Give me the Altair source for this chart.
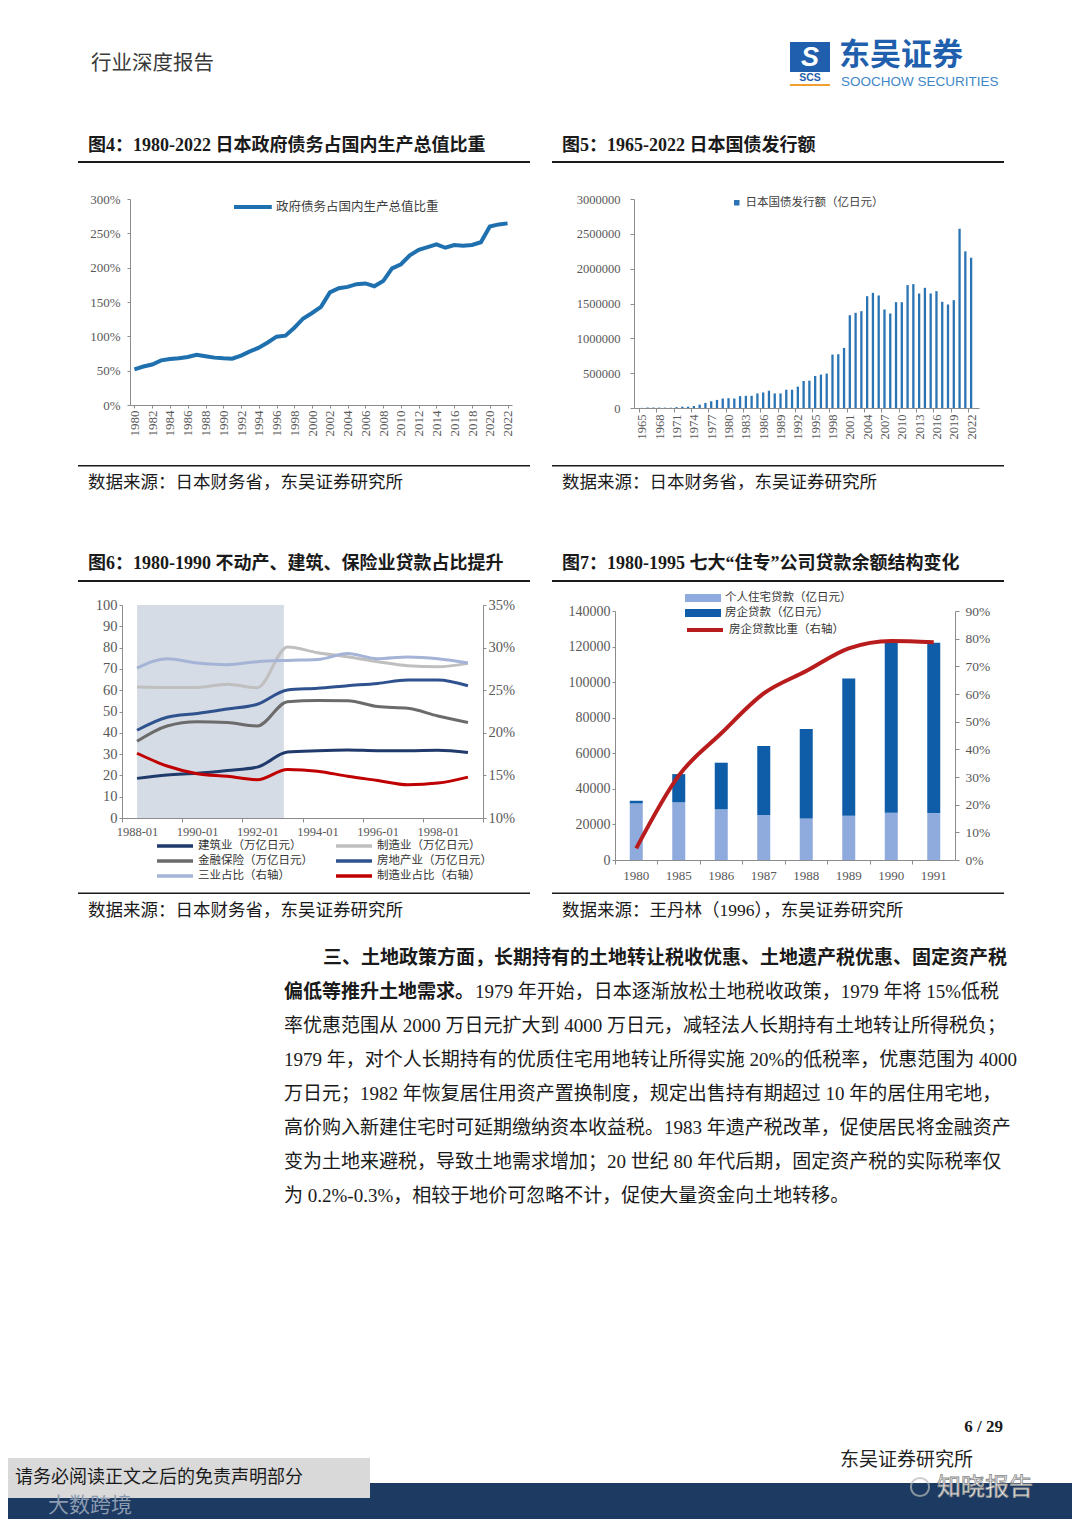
import altair as alt
import pandas as pd

SERIF = "Liberation Serif, Noto Sans CJK SC"
SANS = "Noto Sans CJK SC"
TNR = "Liberation Serif"

# ---------------- Figure 4: government debt / GDP (%) ----------------
years4 = [1980, 1981, 1982, 1983, 1984, 1985, 1986, 1987, 1988, 1989, 1990,
          1991, 1992, 1993, 1994, 1995, 1996, 1997, 1998, 1999, 2000, 2001,
          2002, 2003, 2004, 2005, 2006, 2007, 2008, 2009, 2010, 2011, 2012,
          2013, 2014, 2015, 2016, 2017, 2018, 2019, 2020, 2021, 2022]
debt_ratio = [52, 56, 59, 65, 67, 68, 70, 73, 71, 69, 68,
              67.5, 72, 78, 83.5, 91, 99.5, 101, 112.5, 126, 134, 143,
              164, 170, 172, 176, 177, 173, 180.5, 199, 205, 218, 226,
              230, 234, 229, 233, 232, 233, 237, 260, 263, 264.5]
series4 = "政府债务占国内生产总值比重"
x_ticks4 = [1980, 1982, 1984, 1986, 1988, 1990, 1992, 1994, 1996, 1998, 2000,
            2002, 2004, 2006, 2008, 2010, 2012, 2014, 2016, 2018, 2020, 2022]
y_ticks4 = [0, 50, 100, 150, 200, 250, 300]

# ---------------- Figure 5: JGB issuance (100 million yen) ----------------
years5 = [1965, 1966, 1967, 1968, 1969, 1970, 1971, 1972, 1973, 1974,
          1975, 1976, 1977, 1978, 1979, 1980, 1981, 1982, 1983, 1984,
          1985, 1986, 1987, 1988, 1989, 1990, 1991, 1992, 1993, 1994,
          1995, 1996, 1997, 1998, 1999, 2000, 2001, 2002, 2003, 2004,
          2005, 2006, 2007, 2008, 2009, 2010, 2011, 2012, 2013, 2014,
          2015, 2016, 2017, 2018, 2019, 2020, 2021, 2022]
jgb_issuance = [2000, 7000, 7000, 6000, 5000, 4000, 12000, 19000, 19000, 29000,
                48000, 73000, 97000, 116000, 136000, 141000, 136000, 170000, 175000, 175000,
                209000, 223000, 248000, 209000, 209000, 262000, 262000, 306000, 388000, 393000,
                460000, 479000, 494000, 767000, 772000, 863000, 1332000, 1366000, 1390000, 1605000,
                1653000, 1615000, 1414000, 1356000, 1519000, 1519000, 1764000, 1778000, 1644000, 1725000,
                1644000, 1677000, 1524000, 1486000, 1548000, 2573000, 2248000, 2157000]
series5 = "日本国债发行额（亿日元）"
x_ticks5 = [1965, 1968, 1971, 1974, 1977, 1980, 1983, 1986, 1989, 1992,
            1995, 1998, 2001, 2004, 2007, 2010, 2013, 2016, 2019, 2022]
y_ticks5 = [0, 500000, 1000000, 1500000, 2000000, 2500000, 3000000]

# ---------------- Figure 6: loans by industry ----------------
years6 = [1988, 1989, 1990, 1991, 1992, 1993, 1994, 1995, 1996, 1997, 1998, 1999]
construction = [18.6, 20.2, 21.0, 22.3, 23.9, 31.0, 31.6, 31.9, 31.6, 31.6, 31.8, 30.7]
manufacturing = [61.5, 61.3, 61.3, 62.8, 61.2, 80.3, 77.6, 75.7, 73.4, 71.5, 71.0, 72.6]
finance = [36.0, 43.2, 45.2, 44.8, 43.2, 54.6, 55.2, 55.1, 52.3, 51.5, 47.9, 44.8]
real_estate = [41.2, 47.3, 49.1, 51.2, 53.4, 60.1, 60.9, 62.1, 63.2, 64.8, 64.8, 62.1]
three_share = [27.6, 28.7, 28.2, 28.0, 28.35, 28.5, 28.6, 29.3, 28.7, 28.9, 28.7, 28.2]
mfg_share = [17.6, 16.1, 15.2, 14.9, 14.5, 15.7, 15.5, 14.9, 14.4, 13.9, 14.1, 14.8]
names6 = ["建筑业（万亿日元）", "制造业（万亿日元）", "金融保险（万亿日元）",
          "房地产业（万亿日元）", "三业占比（右轴）", "制造业占比（右轴）"]
colors6 = ["#1F3A6B", "#BFBFBF", "#6B6B6B", "#2F528F", "#A5B4D6", "#C00000"]
shade_period = [1988.0, 1992.88]
x_ticks6 = [1987.5, 1989.5, 1991.5, 1993.5, 1995.5, 1997.5, 1999.5]
y_ticks6L = [0, 10, 20, 30, 40, 50, 60, 70, 80, 90, 100]
y_ticks6R = [10, 15, 20, 25, 30, 35]

# ---------------- Figure 7: housing-loan companies ----------------
cats7 = ["1980", "1985", "1986", "1987", "1988", "1989", "1990", "1991"]
personal_loans = [31800, 32400, 28500, 25300, 23400, 24900, 26600, 26400]
corp_loans = [1500, 15900, 26200, 38800, 50200, 77200, 97100, 95800]
corp_ratio = [4.2, 30.5, 45.8, 60.2, 68.3, 76.5, 79.2, 78.7]
names7 = ["个人住宅贷款（亿日元）", "房企贷款（亿日元）", "房企贷款比重（右轴）"]
colors7 = ["#8FAADC", "#0F5CA8", "#B81C1C"]
y_ticks7L = [0, 20000, 40000, 60000, 80000, 100000, 120000, 140000]
y_ticks7R = [0, 10, 20, 30, 40, 50, 60, 70, 80, 90]

body_lines = [
    "三、土地政策方面，长期持有的土地转让税收优惠、土地遗产税优惠、固定资产税",
    "偏低等推升土地需求。",
    "1979 年开始，日本逐渐放松土地税收政策，1979 年将 15%低税",
    "率优惠范围从 2000 万日元扩大到 4000 万日元，减轻法人长期持有土地转让所得税负；",
    "1979 年，对个人长期持有的优质住宅用地转让所得实施 20%的低税率，优惠范围为 4000",
    "万日元；1982 年恢复居住用资产置换制度，规定出售持有期超过 10 年的居住用宅地，",
    "高价购入新建住宅时可延期缴纳资本收益税。1983 年遗产税改革，促使居民将金融资产",
    "变为土地来避税，导致土地需求增加；20 世纪 80 年代后期，固定资产税的实际税率仅",
    "为 0.2%-0.3%，相较于地价可忽略不计，促使大量资金向土地转移。",
]

# ---------------- layout (page pixels) ----------------
X4, Y4, W4, H4 = 130, 199, 382, 206
X5, Y5, W5, H5 = 634, 199, 345, 209
X6, Y6, W6, H6 = 122, 605, 361, 213
X7, Y7, W7, H7 = 615, 605, 340, 255
LEFT = 9               # left edge of the left-column anchors (spacer occupies 8..9)
MID = 541              # split between left and right column
ROW1, ROW2 = 520, 930  # split between rows
O4, O5, O6, O7 = (X4, Y4), (X5, Y5), (X6, Y6), (X7, Y7)
O8 = (8, ROW2)

ONE = alt.Data(values=[{"k": 0}])


def txt(o, px, py, s, size, color="#1a1a1a", weight="normal", font=SERIF,
        align="left", baseline="middle", opacity=1.0, **kw):
    return alt.Chart(ONE).mark_text(
        align=align, baseline=baseline, fontSize=size, fontWeight=weight,
        font=font, color=color, opacity=opacity, **kw
    ).encode(x=alt.value(px - o[0]), y=alt.value(py - o[1]), text=alt.value(s))


def box(o, x1, y1, x2, y2, color, opacity=1.0):
    return alt.Chart(ONE).mark_rect(color=color, opacity=opacity).encode(
        x=alt.value(x1 - o[0]), x2=alt.value(x2 - o[0]),
        y=alt.value(y1 - o[1]), y2=alt.value(y2 - o[1]))


def spacer():
    return alt.Chart(ONE).mark_rect(opacity=0).encode(
        x=alt.value(0), x2=alt.value(1), y=alt.value(0), y2=alt.value(1)
    ).properties(width=1, height=1)


AX = dict(grid=False, domainColor="#8c8c8c", tickColor="#8c8c8c",
          labelColor="#595959", labelFont=TNR, title=None,
          labelFlush=False, labelOverlap=False)

SRC1 = "数据来源：日本财务省，东吴证券研究所"
SRC7 = "数据来源：王丹林（1996），东吴证券研究所"
SRC_SIZE = 17.5

# ---------------- decorations ----------------
decor4 = [
    box(O4, LEFT, 8, MID, ROW1, "white", 0.0),
    txt(O4, 91, 64, "行业深度报告", 20.5, color="#3a3a3a"),
    txt(O4, 88, 146, "图4：1980-2022 日本政府债务占国内生产总值比重", 18, weight="bold"),
    box(O4, 78, 161, 530, 163, "#1a1a1a"),
    box(O4, 78, 465, 530, 466.5, "#1a1a1a"),
    txt(O4, 88, 483, SRC1, SRC_SIZE),
]
decor5 = [
    box(O5, MID, 8, 1072, ROW1, "white", 0.0),
    box(O5, 790, 42, 830, 72, "#1F5FAD"),
    txt(O5, 810, 58, "S", 27, color="white", weight="bold",
        font="Liberation Sans", align="center", fontStyle="italic"),
    txt(O5, 810, 78, "SCS", 10.5, color="#1F5FAD", weight="bold",
        font="Liberation Sans", align="center"),
    box(O5, 790, 84, 830, 86, "#F0A030"),
    txt(O5, 839, 56, "东吴证券", 31, color="#1F5FAD", weight="bold", font=SANS),
    txt(O5, 841, 82, "SOOCHOW SECURITIES", 13.5, color="#3F86C8",
        font="Liberation Sans Narrow, Liberation Sans"),
    txt(O5, 562, 146, "图5：1965-2022 日本国债发行额", 18, weight="bold"),
    box(O5, 552, 161, 1004, 163, "#1a1a1a"),
    box(O5, 552, 465, 1004, 466.5, "#1a1a1a"),
    txt(O5, 562, 483, SRC1, SRC_SIZE),
]
decor6 = [
    box(O6, LEFT, ROW1, MID, ROW2, "white", 0.0),
    txt(O6, 88, 564, "图6：1980-1990 不动产、建筑、保险业贷款占比提升", 18, weight="bold"),
    box(O6, 78, 580, 530, 582, "#1a1a1a"),
    box(O6, 78, 892.5, 530, 894, "#1a1a1a"),
    txt(O6, 88, 911, SRC1, SRC_SIZE),
]
decor7 = [
    box(O7, MID, ROW1, 1072, ROW2, "white", 0.0),
    txt(O7, 562, 564, "图7：1980-1995 七大“住专”公司贷款余额结构变化", 18, weight="bold"),
    box(O7, 552, 580, 1004, 582, "#1a1a1a"),
    box(O7, 552, 892.5, 1004, 894, "#1a1a1a"),
    txt(O7, 562, 911, SRC7, SRC_SIZE),
]
decor8 = [
    box(O8, 8, ROW2, 1072, 1519, "white", 0.0),
    txt(O8, 323, 958, body_lines[0], 19, weight="bold"),
    txt(O8, 284, 992, body_lines[1], 19, weight="bold"),
    txt(O8, 475, 992, body_lines[2], 19),
]
for i, line in enumerate(body_lines[3:]):
    decor8.append(txt(O8, 284, 1026 + 34 * i, line, 19))
decor8 += [
    txt(O8, 1003, 1427, "6 / 29", 17, weight="bold", align="right", font=TNR),
    txt(O8, 840, 1460, "东吴证券研究所", 19, color="#222222"),
    box(O8, 8, 1483, 1072, 1519, "#1C3A62"),
    box(O8, 8, 1458, 370, 1498, "#D9D9D9"),
    txt(O8, 15, 1478, "请务必阅读正文之后的免责声明部分", 18, color="#1a1a1a"),
    txt(O8, 48, 1506, "大数跨境", 21, color="#8D9BB0", font=SANS),
    alt.Chart(ONE).mark_point(shape="circle", size=330, filled=False,
                              color="#BBBBBB", strokeWidth=2).encode(
        x=alt.value(920 - O8[0]), y=alt.value(1487 - O8[1])),
    txt(O8, 937, 1488, "知晓报告", 24, color="#F2F2F2", font=SANS,
        stroke="#8a8a8a", strokeWidth=0.8),
]

# ---------------- Figure 4 ----------------
df4 = pd.DataFrame({"year": years4, "v": debt_ratio, "s": series4})
line4 = alt.Chart(df4).mark_line(strokeWidth=4).encode(
    x=alt.X("year:Q", scale=alt.Scale(domain=[1979.5, 2022.5], nice=False, zero=False),
            axis=alt.Axis(**AX, values=x_ticks4, format="d", labelAngle=270,
                          labelFontSize=13, tickSize=3, labelPadding=2)),
    y=alt.Y("v:Q", scale=alt.Scale(domain=[0, 300], nice=False),
            axis=alt.Axis(**AX, values=y_ticks4, labelExpr="datum.value + '%'",
                          labelFontSize=13, tickSize=3, labelPadding=7)),
    color=alt.Color("s:N", scale=alt.Scale(domain=[series4], range=["#1F70AE"]),
                    legend=alt.Legend(title=None, orient="none", legendX=102, legendY=0,
                                      symbolType="M-1,0H5.3", symbolSize=144,
                                      symbolStrokeWidth=4, labelOffset=28, padding=0,
                                      labelFont=SANS, labelFontSize=12.5, labelLimit=400,
                                      labelColor="#404040")),
)
f4 = alt.layer(*decor4, line4).properties(width=W4, height=H4)

# ---------------- Figure 5 ----------------
df5 = pd.DataFrame({"year": years5, "v": jgb_issuance, "s": series5})
bars5 = alt.Chart(df5).mark_bar(size=2.3).encode(
    x=alt.X("year:Q", scale=alt.Scale(domain=[1964.5, 2022.5], nice=False, zero=False),
            axis=alt.Axis(**AX, values=x_ticks5, format="d", labelAngle=270,
                          labelFontSize=12.5, tickSize=4, labelPadding=2,
                          tickOffset=-3, labelOffset=3)),
    y=alt.Y("v:Q", scale=alt.Scale(domain=[0, 3000000], nice=False),
            axis=alt.Axis(**AX, values=y_ticks5, format="d",
                          labelFontSize=12.5, tickSize=4, labelPadding=10)),
    color=alt.Color("s:N", scale=alt.Scale(domain=[series5], range=["#2B74B3"]),
                    legend=alt.Legend(title=None, orient="none", legendX=97, legendY=-2,
                                      symbolType="square", symbolSize=30,
                                      labelOffset=3, padding=0, labelLimit=400,
                                      labelFont=SANS, labelFontSize=11.5,
                                      labelColor="#404040")),
)
f5 = alt.layer(*decor5, bars5).properties(width=W5, height=H5)

# ---------------- Figure 6 ----------------
rows6L, rows6R = [], []
for i, yr in enumerate(years6):
    rows6L += [
        {"year": yr, "v": construction[i], "s": names6[0]},
        {"year": yr, "v": manufacturing[i], "s": names6[1]},
        {"year": yr, "v": finance[i], "s": names6[2]},
        {"year": yr, "v": real_estate[i], "s": names6[3]},
    ]
    rows6R += [
        {"year": yr, "p": three_share[i], "s": names6[4]},
        {"year": yr, "p": mfg_share[i], "s": names6[5]},
    ]
df6L = pd.DataFrame(rows6L)
df6R = pd.DataFrame(rows6R)
df6S = pd.DataFrame({"x0": [shade_period[0]], "x1": [shade_period[1]]})

# legend fills column by column: order the domain so it reads row by row
leg_order = [0, 2, 4, 1, 3, 5]
x6 = alt.X("year:Q", scale=alt.Scale(domain=[1987.5, 1999.5], nice=False, zero=False),
           axis=alt.Axis(**AX, values=x_ticks6,
                         labelExpr="datum.value < 1999 ? (datum.value + 0.5) + '-01' : ''",
                         labelOffset=15, labelFontSize=12.5, tickSize=4, labelPadding=3))
legend6 = alt.Legend(title=None, orient="none", legendX=33, legendY=233, columns=2,
                     symbolType="M-1,0H5", symbolSize=144, symbolStrokeWidth=3.5,
                     labelOffset=27, columnPadding=16, rowPadding=0, padding=0,
                     labelFont=SANS, labelFontSize=11.5, labelColor="#333333", labelLimit=400)
color6 = alt.Color("s:N", scale=alt.Scale(domain=[names6[k] for k in leg_order],
                                          range=[colors6[k] for k in leg_order]),
                   legend=legend6)

shade6 = alt.Chart(df6S).mark_rect(color="#D6DCE5").encode(
    x=alt.X("x0:Q", scale=alt.Scale(domain=[1987.5, 1999.5], nice=False, zero=False)),
    x2="x1:Q", y=alt.value(0), y2=alt.value(H6))
lines6L = alt.Chart(df6L).mark_line(strokeWidth=3, interpolate="monotone").encode(
    x=x6,
    y=alt.Y("v:Q", scale=alt.Scale(domain=[0, 100], nice=False),
            axis=alt.Axis(**AX, orient="left", values=y_ticks6L, labelFontSize=14.5,
                          tickSize=3, labelPadding=2)),
    color=color6)
lines6R = alt.Chart(df6R).mark_line(strokeWidth=3, interpolate="monotone").encode(
    x=x6,
    y=alt.Y("p:Q", scale=alt.Scale(domain=[10, 35], nice=False, zero=False),
            axis=alt.Axis(**AX, orient="right", values=y_ticks6R,
                          labelExpr="datum.value + '%'", labelFontSize=14.5,
                          tickSize=3, labelPadding=2)),
    color=color6)
f6 = alt.layer(*decor6, shade6, lines6L, lines6R).resolve_scale(
    y="independent").properties(width=W6, height=H6)

# ---------------- Figure 7 ----------------
rows7 = []
for i, c in enumerate(cats7):
    rows7.append({"cat": c, "series": names7[0], "val": personal_loans[i], "ord": 0})
    rows7.append({"cat": c, "series": names7[1], "val": corp_loans[i], "ord": 1})
df7 = pd.DataFrame(rows7)
df7L = pd.DataFrame({"cat": cats7, "r": corp_ratio, "s": names7[2]})

x7 = alt.X("cat:N", sort=cats7,
           scale=alt.Scale(domain=cats7, paddingInner=0, paddingOuter=0),
           axis=alt.Axis(**AX, labelAngle=0, bandPosition=0,
                         labelFontSize=13, tickSize=4, labelPadding=5))
bars7 = alt.Chart(df7).mark_bar(size=13).encode(
    x=x7,
    y=alt.Y("val:Q", stack="zero",
            scale=alt.Scale(domain=[0, 140000], range=[H7, 6], nice=False),
            axis=alt.Axis(**AX, orient="left", values=y_ticks7L, format="d",
                          labelFontSize=14, tickSize=3, labelPadding=2)),
    color=alt.Color("series:N", scale=alt.Scale(domain=names7[:2], range=colors7[:2]),
                    legend=alt.Legend(title=None, orient="none", legendX=70, legendY=-13,
                                      symbolType="M-1,-0.67H5V0.67H-1Z", symbolSize=144,
                                      symbolStrokeWidth=0, labelOffset=28, rowPadding=3,
                                      padding=0, labelFont=SANS, labelFontSize=11.5,
                                      labelColor="#333333", labelLimit=400)),
    order=alt.Order("ord:Q", sort="ascending"),
)
line7 = alt.Chart(df7L).mark_line(strokeWidth=4, interpolate="monotone").encode(
    x=x7,
    y=alt.Y("r:Q", scale=alt.Scale(domain=[0, 90], range=[H7, 6], nice=False),
            axis=alt.Axis(**AX, orient="right", values=y_ticks7R,
                          labelExpr="datum.value + '%'", labelFontSize=13.5,
                          tickSize=4, labelPadding=6)),
    stroke=alt.Stroke("s:N", scale=alt.Scale(domain=[names7[2]], range=[colors7[2]]),
                      legend=alt.Legend(title=None, orient="none", legendX=70, legendY=17,
                                        symbolType="M-1,0H5", symbolSize=144,
                                        symbolStrokeWidth=4, labelOffset=28, padding=0,
                                        labelFont=SANS, labelFontSize=11.5,
                                        labelColor="#333333", labelLimit=400)),
)
f7 = alt.layer(*decor7, bars7, line7).resolve_scale(
    y="independent").properties(width=W7, height=H7)

# ---------------- body text & footer ----------------
f8 = alt.layer(*decor8).properties(width=1064, height=1519 - ROW2)

row1 = alt.hconcat(spacer(), f4, f5, spacing=0).resolve_scale(
    color="independent", stroke="independent")
row2 = alt.hconcat(spacer(), f6, f7, spacing=0).resolve_scale(
    color="independent", stroke="independent")

chart = alt.vconcat(row1, row2, f8, spacing=0).resolve_scale(
    color="independent", stroke="independent").properties(padding=0).configure_view(
    stroke="transparent", strokeWidth=0)

chart.save("out.html", embed_options={"renderer": "svg", "actions": False})
